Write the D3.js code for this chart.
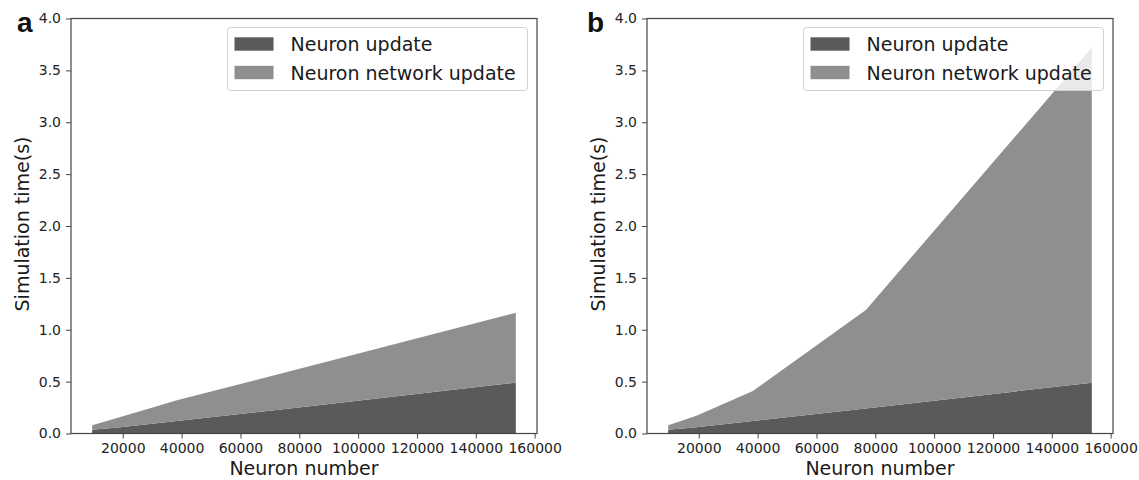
<!DOCTYPE html>
<html>
<head>
<meta charset="utf-8">
<script src="https://cdn.jsdelivr.net/npm/d3@7"></script>
<style>
  html, body { margin: 0; padding: 0; background: #fff; }
  svg { display: block; }
  text { font-family: "DejaVu Sans", sans-serif; }
</style>
</head>
<body>
<svg id="chart" width="1139" height="480"></svg>
<script>
// ---- data ----
const neuronCounts = [9600, 19200, 38400, 76800, 153600];
const neuronUpdate = [0.035, 0.06, 0.12, 0.24, 0.49];
const networkUpdateA = [0.045, 0.10, 0.20, 0.36, 0.674];
const networkUpdateB = [0.045, 0.11, 0.29, 0.95, 3.23];
const seriesNames = ["Neuron update", "Neuron network update"];
const panelLabels = ["a", "b"];
const xTicks = [20000, 40000, 60000, 80000, 100000, 120000, 140000, 160000];
const yTicks = [0, 0.5, 1.0, 1.5, 2.0, 2.5, 3.0, 3.5, 4.0];
const xTitle = "Neuron number";
const yTitle = "Simulation time(s)";

const colors = ["#5a5a5a", "#8f8f8f"];
const svg = d3.select("#chart");

const panels = [
  { label: panelLabels[0], net: networkUpdateA, left: 71, labelX: 17 },
  { label: panelLabels[1], net: networkUpdateB, left: 647, labelX: 587 }
];
const plotTop = 18.5, W = 466, H = 415;

panels.forEach(p => {
  const rows = neuronCounts.map((n, i) => ({ n: n, a: neuronUpdate[i], b: p.net[i] }));
  const stacked = d3.stack().keys(["a", "b"])(rows);

  const x = d3.scaleLinear().domain([2400, 160800]).range([0, W]);
  const y = d3.scaleLinear().domain([0, 4]).range([H, 0]);

  const g = svg.append("g").attr("transform", `translate(${p.left},${plotTop})`);

  const area = d3.area()
    .x(d => x(d.data.n))
    .y0(d => y(d[0]))
    .y1(d => y(d[1]));

  g.selectAll("path.layer").data(stacked).join("path")
    .attr("class", "layer")
    .attr("d", area)
    .attr("fill", (d, i) => colors[i]);

  // axes
  const xAxis = g.append("g").attr("transform", `translate(0,${H})`)
    .call(d3.axisBottom(x).tickValues(xTicks).tickFormat(d3.format("d")).tickSize(5).tickPadding(5));
  const yAxis = g.append("g")
    .call(d3.axisLeft(y).tickValues(yTicks).tickFormat(d3.format(".1f")).tickSize(5).tickPadding(5));
  [xAxis, yAxis].forEach(a => {
    a.select(".domain").remove();
    a.selectAll(".tick line").attr("stroke", "#444").attr("stroke-width", 1);
    a.selectAll(".tick text").attr("fill", "#222").style("font-size", "14px")
      .style("font-family", "'DejaVu Sans', sans-serif");
  });

  // frame
  g.append("rect").attr("x", 0).attr("y", 0).attr("width", W).attr("height", H)
    .attr("fill", "none").attr("stroke", "#444").attr("stroke-width", 1.2);

  // axis titles
  g.append("text").attr("x", W / 2).attr("y", 475 - plotTop)
    .attr("text-anchor", "middle").attr("fill", "#1a1a1a")
    .style("font-size", "19px").text(xTitle);
  g.append("text")
    .attr("transform", `translate(-42,${H / 2 - 2}) rotate(-90)`)
    .attr("text-anchor", "middle").attr("fill", "#1a1a1a")
    .style("font-size", "19px").text(yTitle);

  // legend
  const lgW = 300, lgH = 63;
  const lg = g.append("g").attr("transform", `translate(${W - 9.5 - lgW},${27.5 - plotTop})`);
  lg.append("rect").attr("width", lgW).attr("height", lgH).attr("rx", 3)
    .attr("fill", "#fff").attr("fill-opacity", 0.8)
    .attr("stroke", "#d0d0d0").attr("stroke-width", 1);
  seriesNames.forEach((name, i) => {
    const cy = 16.5 + i * 28.5;
    lg.append("rect").attr("x", 7).attr("y", cy - 6.7).attr("width", 39).attr("height", 13.4)
      .attr("fill", colors[i]);
    lg.append("text").attr("x", 63).attr("y", cy + 7)
      .attr("fill", "#1a1a1a").style("font-size", "19px").text(name);
  });

  // panel label
  svg.append("text").attr("x", p.labelX).attr("y", 32)
    .style("font-family", "'Liberation Sans', Arial, sans-serif")
    .style("font-weight", "bold").style("font-size", "28px")
    .attr("fill", "#111").text(p.label);
});
</script>
</body>
</html>
